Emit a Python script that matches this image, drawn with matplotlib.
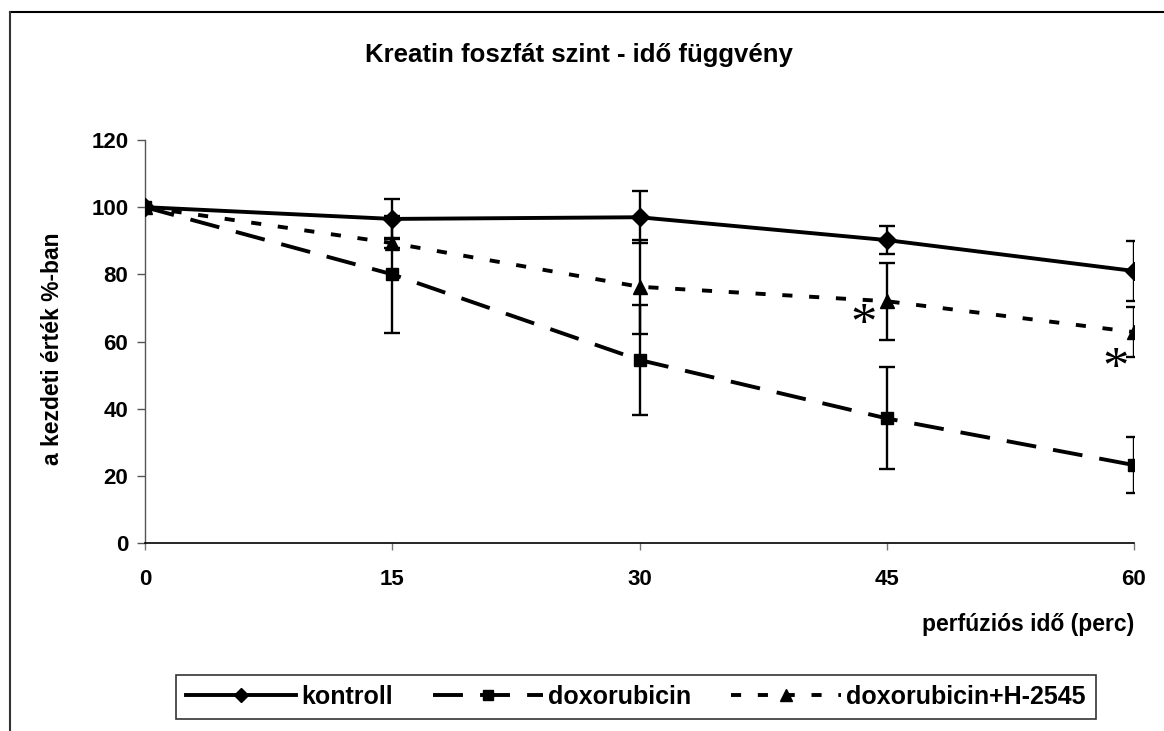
import matplotlib
matplotlib.use("Agg")
import matplotlib.pyplot as plt
from matplotlib.lines import Line2D

plt.rcParams['font.family'] = ['Liberation Sans', 'DejaVu Sans']
plt.rcParams['font.weight'] = 'bold'

# data
ido = [0, 15, 30, 45, 60]
kontroll = [100, 96.5, 97, 90.2, 81]
kontroll_err = [0, 6.0, 7.7, 4.2, 9.0]
doxo = [100, 80, 54.5, 37.1, 23.2]
doxo_err = [0, 17.5, 16.4, 15.2, 8.3]
doxo_h = [100, 89.3, 76.3, 72, 62.8]
doxo_h_err = [0, 1.5, 14, 11.5, 7.5]
csillag_x = [43.6, 58.9]
csillag_y = [64.6, 51.6]

fig = plt.figure(figsize=(11.64, 7.31), dpi=100)
ax = fig.add_axes([145/1164, 1-543/731, (1134-145)/1164, (543-140)/731])

lw = 2.8
stilusok = ['-', (0, (7.7, 4.4)), (0, (2.6, 4.3))]
markerek = ['D', 's', '^']
meretek = [9, 9, 10]
nevek = ['kontroll', 'doxorubicin', 'doxorubicin+H-2545']
adatok = [(kontroll, kontroll_err), (doxo, doxo_err), (doxo_h, doxo_h_err)]

handles = []
for (y, e), ls, m, ms, nev in zip(adatok, stilusok, markerek, meretek, nevek):
    ax.errorbar(ido, y, yerr=e, color='black', lw=lw, marker=m, ms=ms,
                capsize=6, elinewidth=1.7, capthick=1.7, linestyle=ls, zorder=3)
    handles.append(Line2D([], [], color='black', lw=lw, linestyle=ls, marker=m,
                          ms=ms - 2, label=nev))

for x, y in zip(csillag_x, csillag_y):
    ax.text(x, y, '*', fontsize=38, family='Liberation Serif', fontweight='normal',
            ha='center', va='center')

ax.set_xlim(0, 60)
ax.set_ylim(0, 120)
ax.set_xticks(ido)
ax.set_yticks(range(0, 121, 20))
for s in ['top', 'right']:
    ax.spines[s].set_visible(False)
ax.spines['left'].set_color('#555555')
ax.spines['left'].set_linewidth(1.0)
ax.spines['bottom'].set_linewidth(1.2)
ax.tick_params(axis='y', length=6, width=1, color='#555555', pad=6, labelsize=16)
ax.tick_params(axis='x', length=5, width=1, color='#777777', pad=14, labelsize=16)
for t in ax.get_xticklabels() + ax.get_yticklabels():
    t.set_fontweight('bold')

fig.text(0.497, 1-55/731, 'Kreatin foszfát szint - idő függvény', ha='center', va='center',
         fontsize=18.5, fontweight='bold')
fig.text(53/1164, 1-349/731, 'a kezdeti érték %-ban', rotation=90, ha='center', va='center',
         fontsize=16.5, fontweight='bold')
fig.text(1134/1164, 1-624/731, 'perfúziós idő (perc)', ha='right', va='center',
         fontsize=16.5, fontweight='bold')

# outer chart frame (cut at right/bottom)
fig.add_artist(Line2D([10/1164, 1.01], [1-12/731, 1-12/731], color='black', lw=1.5,
                      transform=fig.transFigure))
fig.add_artist(Line2D([10/1164, 10/1164], [1-12/731, -0.01], color='#333333', lw=1.5,
                      transform=fig.transFigure))

leg = fig.legend(handles=handles, loc='center', bbox_to_anchor=(636/1164, 1-697/731),
                 ncol=3, fancybox=False, edgecolor='black', handlelength=4.4,
                 columnspacing=1.6, handletextpad=0.2, borderpad=0.4,
                 prop={'size': 18, 'weight': 'bold'})
leg.get_frame().set_linewidth(1.2)

fig.savefig('out.png', dpi=100)
